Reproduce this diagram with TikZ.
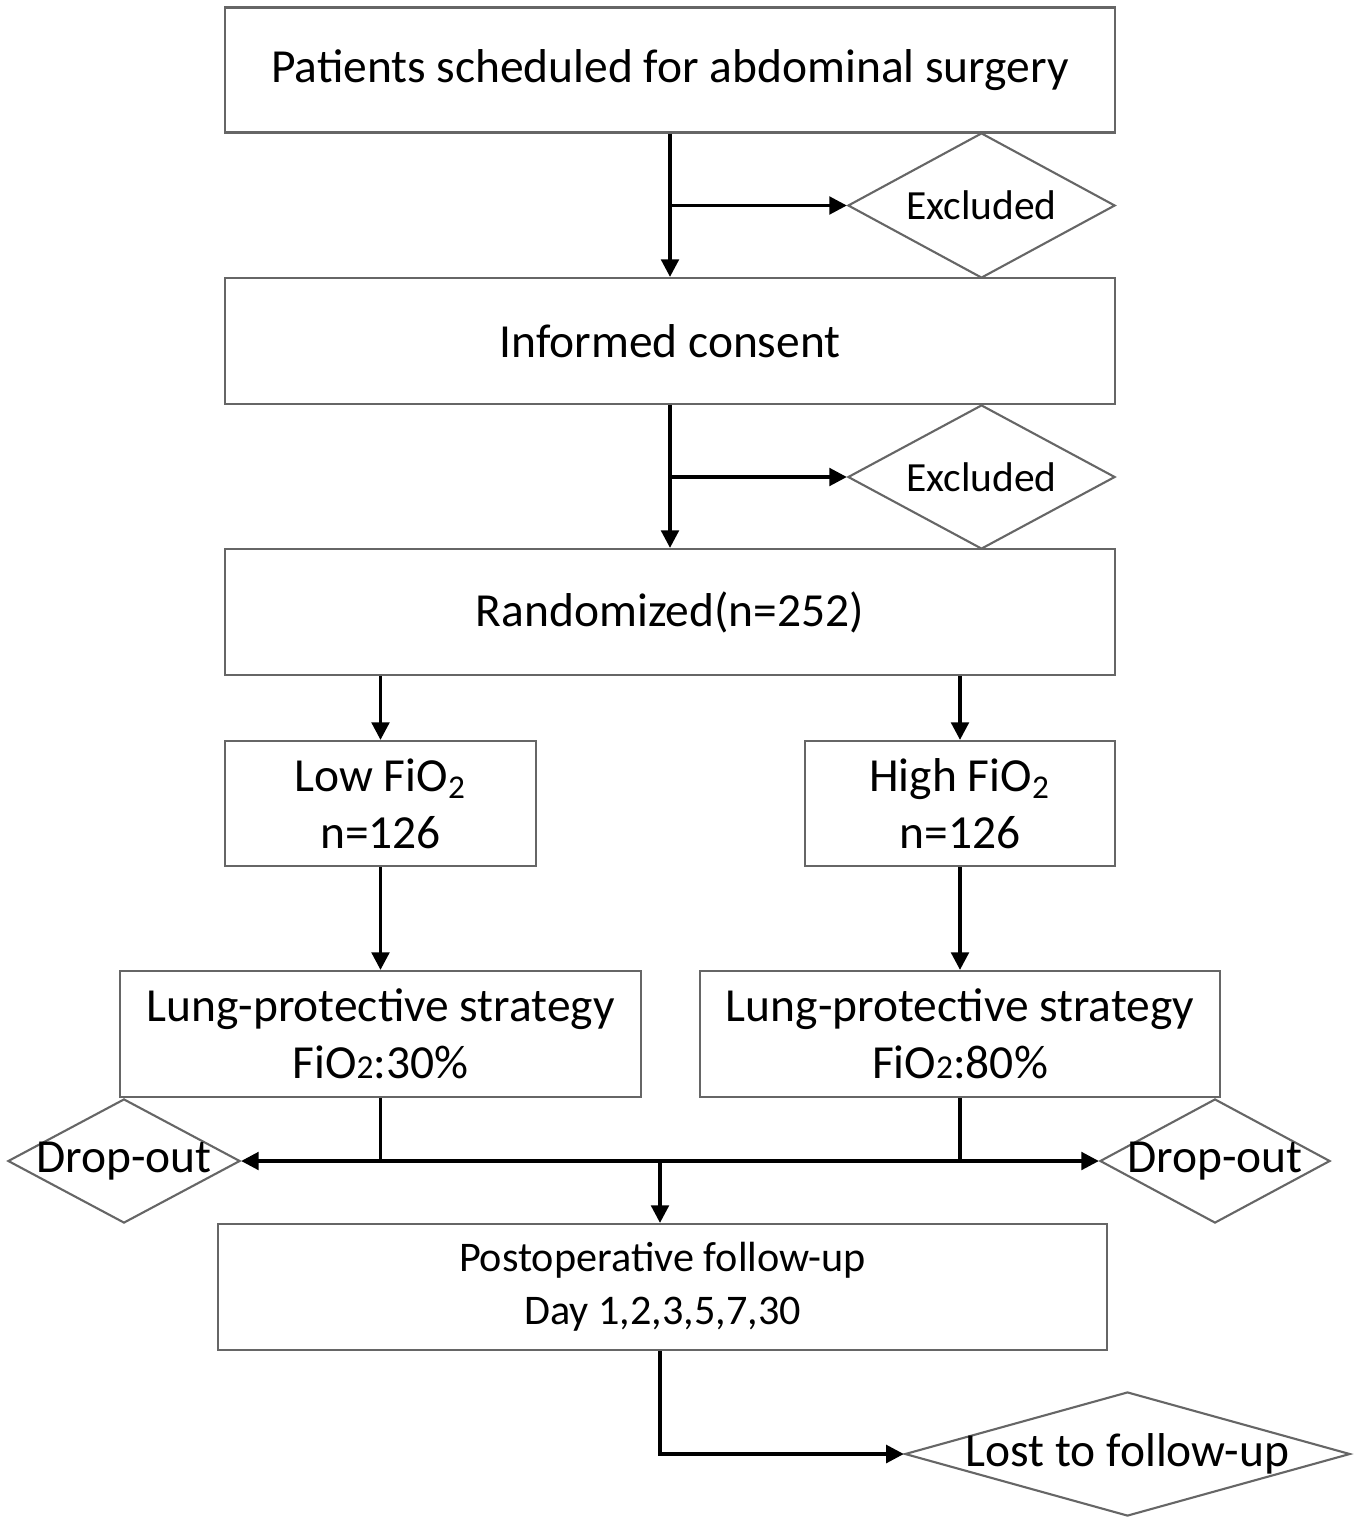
\documentclass[tikz,border=0pt]{standalone}
\usepackage{fontspec}
\setmainfont{Carlito}
\usepackage{tikz}
\usetikzlibrary{arrows.meta,shapes.geometric}
\tikzstyle{box} = [draw=black!60, line width=0.6pt, fill=white, inner sep=0pt,%
	align=center, font=\fontsize{13.5}{16.3}\selectfont]
\tikzstyle{dia} = [diamond, draw=black!60, line width=0.6pt, inner sep=0pt]
\tikzstyle{lbl} = [inner sep=0pt, font=\fontsize{13.5}{16}\selectfont]
\tikzstyle{line} = [draw=black, line width=1pt]
\tikzstyle{arrow} = [line, -{Triangle[length=5pt,width=5pt]}]

\begin{document}
\begin{tikzpicture}[x=0.01cm,y=-0.01cm]
		\useasboundingbox (0,0) rectangle (1356,1518);
		% boxes
		\node[box, minimum width=8.9cm, minimum height=1.25cm] (top) at (670,70) {Patients scheduled for abdominal surgery};
		\node[box, minimum width=8.9cm, minimum height=1.26cm] (consent) at (670,341) {Informed consent};
		\node[box, minimum width=8.9cm, minimum height=1.26cm] (rand) at (670,612) {Randomized(n=252)};
		\node[box, minimum width=3.11cm, minimum height=1.25cm] (low) at (380.5,803.5) {Low FiO\textsubscript{2}\\n=126};
		\node[box, minimum width=3.1cm, minimum height=1.25cm] (high) at (960,803.5) {High FiO\textsubscript{2}\\n=126};
		\node[box, minimum width=5.21cm, minimum height=1.26cm] (lps1) at (380.5,1034) {Lung-protective strategy\\FiO{\fontsize{9.5}{9}\selectfont 2}:30\%};
		\node[box, minimum width=5.2cm, minimum height=1.26cm] (lps2) at (960,1034) {Lung-protective strategy\\FiO{\fontsize{9.5}{9}\selectfont 2}:80\%};
		\node[box, minimum width=8.89cm, minimum height=1.26cm, font=\fontsize{12}{15}\selectfont] (follow) at (662.5,1287) {Postoperative follow-up\\Day 1,2,3,5,7,30};
		% diamonds
		\node[dia, minimum width=2.67cm, minimum height=1.45cm] (exc1) at (981.5,205.5) {};
		\node[lbl, font=\fontsize{11.8}{14}\selectfont] (exc1txt) at (exc1) {Excluded};
		\node[dia, minimum width=2.67cm, minimum height=1.44cm] (exc2) at (981.5,477) {};
		\node[lbl, font=\fontsize{11.8}{14}\selectfont] (exc2txt) at (exc2) {Excluded};
		\node[dia, minimum width=2.32cm, minimum height=1.24cm] (drop1) at (124,1161) {};
		\node[lbl] (drop1txt) at (drop1) {Drop-out};
		\node[dia, minimum width=2.3cm, minimum height=1.24cm] (drop2) at (1215,1161) {};
		\node[lbl] (drop2txt) at (drop2) {Drop-out};
		\node[dia, minimum width=4.45cm, minimum height=1.24cm] (lost) at (1127.5,1454) {};
		\node[lbl] (losttxt) at (lost) {Lost to follow-up};
		% connectors
		\draw[arrow] (top.south) -- (consent.north);
		\draw[arrow] (top.south |- exc1.west) -- (exc1.west);
		\draw[arrow] (consent.south) -- (rand.north);
		\draw[arrow] (consent.south |- exc2.west) -- (exc2.west);
		\draw[arrow] (rand.south -| low) -- (low.north);
		\draw[arrow] (rand.south -| high) -- (high.north);
		\draw[arrow] (low.south) -- (lps1.north);
		\draw[arrow] (high.south) -- (lps2.north);
		\draw[line] (lps1.south) -- (lps1.south |- drop1.east);
		\draw[line] (lps2.south) -- (lps2.south |- drop2.west);
		\coordinate (split) at (660,1161);
		\draw[arrow] (split) -- (drop1.east);
		\draw[arrow] (split) -- (drop2.west);
		\draw[arrow] (split) -- (split |- follow.north);
		\draw[arrow] (follow.south -| split) |- (lost.west);
	\end{tikzpicture}
\end{document}
